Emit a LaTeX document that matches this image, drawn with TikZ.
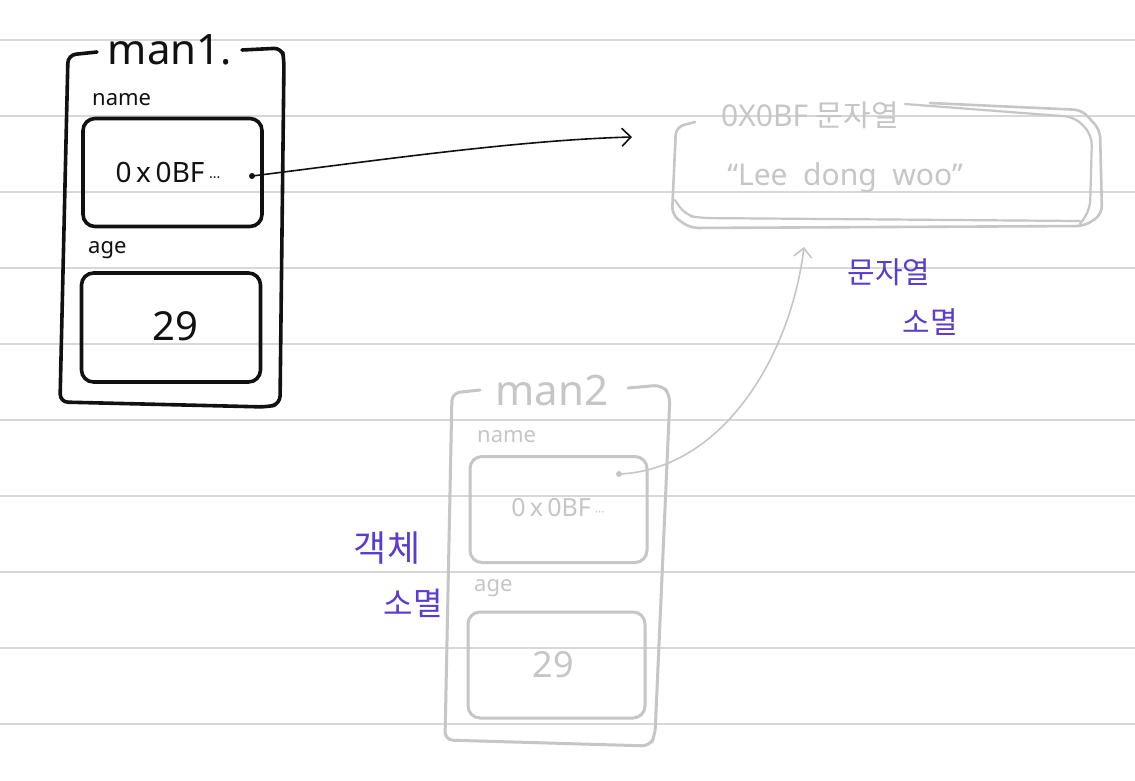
\documentclass[tikz,border=0pt]{standalone}
\usepackage{fontspec}
\setmainfont{Noto Sans}
\newfontfamily\kr{Noto Sans CJK KR}
\usetikzlibrary{arrows.meta}
\definecolor{ink}{HTML}{111111}
\definecolor{faded}{HTML}{C6C6C6}
\definecolor{ruleline}{HTML}{D8D8D8}
\definecolor{pen}{HTML}{5A3CCF}
\tikzset{
  inkbox/.style={draw=ink, line width=3.6pt, rounded corners=12pt, minimum width=#1, minimum height=108pt},
  fadebox/.style={draw=faded, line width=3pt, rounded corners=12pt, minimum width=#1, minimum height=106pt},
  outer/.style={line width=3.6pt, rounded corners=8pt, line join=round, line cap=round},
  lbl/.style={font=\fontsize{22}{24}\selectfont, inner sep=0pt},
  big/.style={font=\fontsize{42}{44}\selectfont, inner sep=0pt},
  val/.style={font=\fontsize{28}{30}\selectfont, inner sep=0pt},
  num/.style={font=\fontsize{40}{42}\selectfont, inner sep=0pt},
  note/.style={text=pen, font=\kr\fontsize{30}{32}\selectfont, inner sep=0pt},
  link/.style={line width=1.6pt, -{Straight Barb[length=9pt,width=18pt]}, line cap=round},
}
\begin{document}
\begin{tikzpicture}[x=1pt,y=-1pt]
\useasboundingbox (0,0) rectangle (1135,780);
\fill[white] (0,0) rectangle (1135,780);
\foreach \y in {40,116,192,268,344,420,496,572,648,724}
  \draw[ruleline, line width=1.6pt] (0,\y) -- (1135,\y);

% ---------- man1 ----------
\draw[ink, outer] (97,52) -- (68,55) -- (60,402) -- (267,407) -- (280,404) -- (284,60) -- (282,48) -- (242,50);
\node[big, text=ink] (t1) at (170,50) {man1.};
\node[lbl, text=ink, anchor=west] (n1l) at (92,100) {name};
\node[inkbox=179pt] (n1) at (172.5,172.5) {};
\node[val, text=ink] (n1v) at (168,172) {0\,x\,0BF\,{\fontsize{14}{14}\selectfont ···}};
\coordinate (d1) at (252,176);
\fill[ink] (d1) circle (3pt);
\node[lbl, text=ink, anchor=west] (a1l) at (88,250) {age};
\node[inkbox=179pt, minimum height=109pt] (a1) at (171,327.5) {};
\node[num, text=ink] (a1v) at (175,326) {29};

% ---------- string object ----------
\draw[faded, outer, line width=2.6pt] (695,122) -- (676,127) -- (672,215) -- (690,228) -- (1085,226) -- (1102,214) -- (1100,130) -- (1082,110) -- (930,103);
\draw[faded, line width=2.2pt, rounded corners=10pt, line cap=round] (905,104) -- (1075,117) -- (1092,135) -- (1090,210) -- (1080,224);
\draw[faded, line width=2.2pt, rounded corners=10pt, line cap=round] (675,200) -- (685,215) -- (700,218) -- (1080,221);
\node[font=\fontsize{30}{32}\selectfont, text=faded, inner sep=0pt] (st) at (810,115) {0X0BF {\kr 문자열}};
\node[font=\fontsize{30}{32}\selectfont, text=faded, inner sep=0pt] (sv) at (845,178) {“Lee\ \ dong\ \ woo”};
\coordinate (s1) at (632,137);
\coordinate (s2) at (804,247);

\draw[ink, link] (d1) .. controls (380,160) and (520,140) .. (s1);

\node[note] (m1) at (889,272) {문자열};
\node[note] (m2) at (930,322) {소멸};

% ---------- man2 ----------
\draw[faded, outer, line width=3pt] (480,390) -- (452,393) -- (445,740) -- (650,746) -- (655,735) -- (670,395) -- (662,385) -- (628,388);
\node[big, text=faded] (t2) at (552,390) {man2};
\node[lbl, text=faded, anchor=west] (n2l) at (477,437) {name};
\node[fadebox=177pt] (n2) at (558.5,509.5) {};
\node[val, text=faded, font=\fontsize{25}{27}\selectfont] (n2v) at (558,508) {0\,x\,0BF\,{\fontsize{12}{12}\selectfont ···}};
\coordinate (d2) at (619,474);
\fill[faded] (d2) circle (3pt);
\node[lbl, text=faded, anchor=west] (a2l) at (474,588) {age};
\node[fadebox=177pt] (a2) at (556.5,665) {};
\node[num, text=faded, font=\fontsize{36}{38}\selectfont] (a2v) at (553,665) {29};

\draw[faded, link] (d2) .. controls (720,470) and (790,360) .. (s2);

\node[note, font=\kr\fontsize{36}{38}\selectfont] (o1) at (387,548) {객체};
\node[note, font=\kr\fontsize{32}{34}\selectfont] (o2) at (413,603) {소멸};
\end{tikzpicture}
\end{document}
